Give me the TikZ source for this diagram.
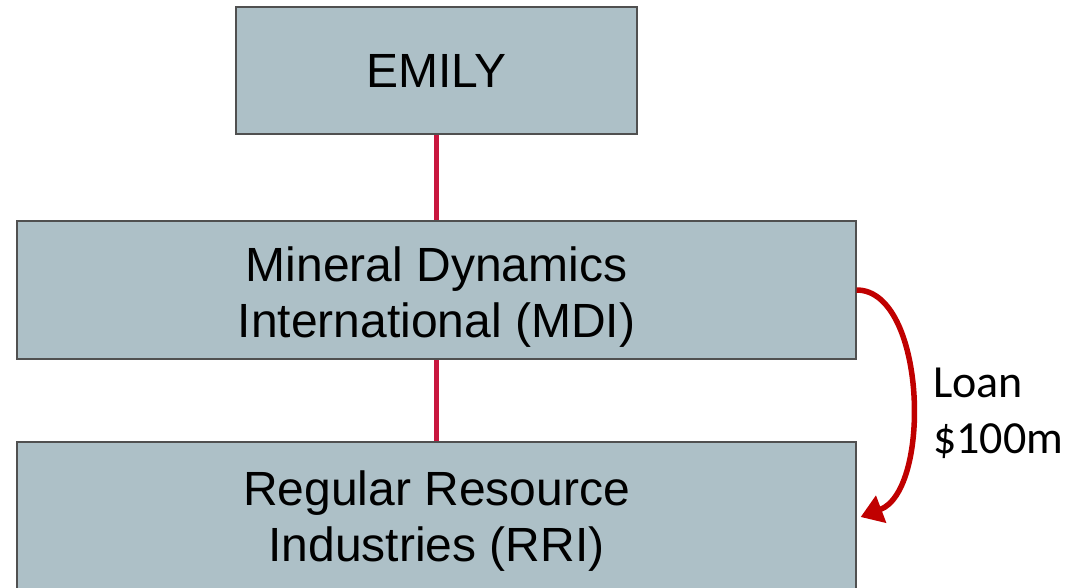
\documentclass[tikz,border=0pt]{standalone}
\usepackage{fontspec}
\setmainfont{Liberation Sans}
\newfontfamily\loanfont{Carlito}
\usetikzlibrary{arrows.meta}
\definecolor{boxfill}{RGB}{173,192,199}
\definecolor{boxline}{RGB}{80,80,80}
\definecolor{linkred}{RGB}{200,22,62}
\definecolor{loanred}{RGB}{192,0,0}
% centred block of lines, nudged vertically without changing its extent
\newcommand{\entitytext}[2]{\raisebox{#1}[\height][\depth]{\begin{tabular}{@{}c@{}}#2\end{tabular}}}
\begin{document}
\begin{tikzpicture}[x=1pt,y=-1pt,
  entity/.style={draw=boxline,line width=1.2pt,fill=boxfill,rectangle,
    inner sep=0pt,align=center,font=\fontsize{48}{56}\selectfont},
  link/.style={draw=linkred,line width=4.5pt},
  loanarrow/.style={draw=loanred,line width=5.5pt,
    -{Triangle[length=22pt,width=28pt]}},
  loantext/.style={font=\loanfont\fontsize{46}{56}\selectfont,inner sep=0pt}]
\useasboundingbox (0,0) rectangle (1091,587);
\clip (0,0) rectangle (1091,587);
% ownership chain
\node[entity,minimum width=401pt,minimum height=127pt] (emily) at (436.5,70.5) {EMILY};
\node[entity,minimum width=839pt,minimum height=138pt] (mdi) at (436.5,290)
  {\entitytext{-8pt}{Mineral Dynamics\\International (MDI)}};
\node[entity,minimum width=839pt,minimum height=152pt] (rri) at (436.5,518)
  {\entitytext{-4pt}{Regular Resource\\Industries (RRI)}};
\draw[link] (emily.south) -- (mdi.north);
\draw[link] (mdi.south) -- (rri.north);
% intercompany loan
\draw[loanarrow] (mdi.east) .. controls (926,290) and (932,490) .. ([xshift=4pt,yshift=1pt]rri.east);
\node[loantext,anchor=base west] (loan) at (933,397) {Loan};
\node[loantext,anchor=base west] (amount) at (933,453) {\$100m};
\end{tikzpicture}
\end{document}
